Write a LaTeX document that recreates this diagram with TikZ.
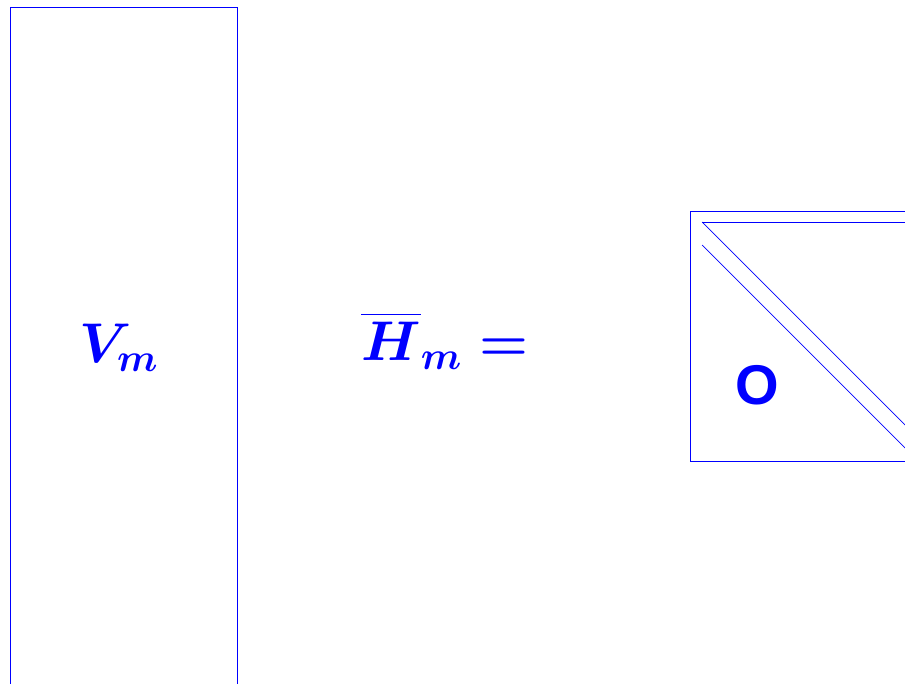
\RequirePackage{fix-cm}
\documentclass[tikz,border=0pt]{standalone}
\usepackage{fontspec}
\usepackage{amsmath}
\usepackage{tikz}
\usetikzlibrary{positioning}
\newfontfamily\helvfont{Liberation Sans}

\begin{document}
\begin{tikzpicture}[
  x=1pt,y=-1pt,
  frame/.style={draw=blue,line width=0.8pt},
  diag/.style={draw=blue,line width=0.7pt},
  mathlbl/.style={text=blue,inner sep=0pt,anchor=base west,
    font=\fontsize{56}{60}\selectfont\boldmath},
  zerolbl/.style={text=blue,inner sep=0pt,anchor=base west,
    font=\fontsize{56}{60}\selectfont\helvfont\bfseries}
]
\useasboundingbox (0,0) rectangle (905,684);
\clip (0,0) rectangle (905,684);

% tall basis block
\draw[frame] (10,7) rectangle (237,700);
\node[mathlbl] (vm) at (79,363) {$V_m$};

\node[mathlbl] (hm) at (361,361) {$\overline{\rule{0pt}{0.76em}H}_m =$};

% upper Hessenberg block, cut at the right edge
\draw[frame] (690,211) rectangle (920,461);
\coordinate (tl) at (702,222);
\coordinate (sl) at (702,245);
\draw[diag] (tl) -- (920,222);
\draw[diag] (tl) -- ++(230,230);
\draw[diag] (sl) -- ++(230,230);
\node[zerolbl] (zero) at (735,405) {O};
\end{tikzpicture}
\end{document}
